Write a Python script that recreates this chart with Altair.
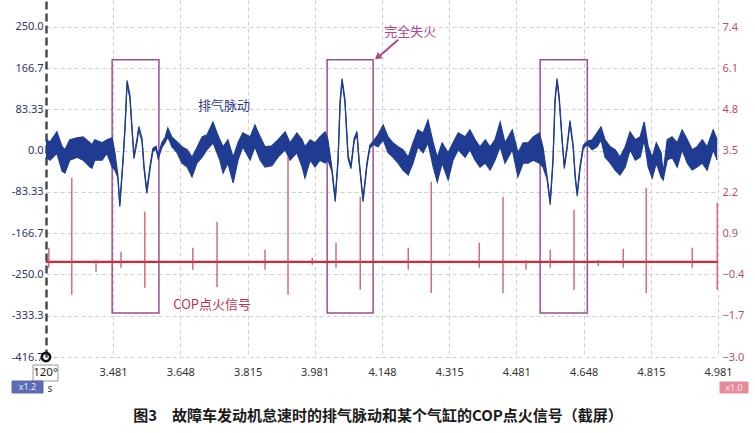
import altair as alt
import pandas as pd

# ---------------- axes ----------------
x_min, x_max = 3.315, 4.981
x_ticks = [3.481, 3.648, 3.815, 3.981, 4.148, 4.315, 4.481, 4.648, 4.815, 4.981]

left_domain = [-416.667, 304.5]
left_ticks = [250.0, 166.667, 83.333, 0.0, -83.333, -166.667, -250.0, -333.333, -416.667]
left_labels = ["250.0", "166.7", "83.33", "0.0", "-83.33", "-166.7", "-250.0", "-333.3", "-416.7"]

right_domain = [-3.0, 8.251]
right_ticks = [7.4, 6.1, 4.8, 3.5, 2.2, 0.9, -0.4, -1.7, -3.0]

# ---------------- exhaust pulse trace (upper / lower edge of the band) ----------------
pulse_t = [3.315, 3.325, 3.342, 3.355, 3.362, 3.374, 3.392, 3.407, 3.424, 3.429, 3.436, 3.454, 3.466, 3.479,
           3.486, 3.493, 3.498, 3.506, 3.511, 3.516, 3.523, 3.528, 3.533, 3.541, 3.545, 3.553, 3.558, 3.565,
           3.573, 3.580, 3.588, 3.593, 3.602, 3.610, 3.617, 3.627, 3.640, 3.652, 3.665, 3.677, 3.689, 3.702,
           3.714, 3.729, 3.739, 3.746, 3.754, 3.766, 3.779, 3.791, 3.803, 3.821, 3.833, 3.846, 3.858, 3.875,
           3.890, 3.908, 3.920, 3.937, 3.950, 3.957, 3.970, 3.982, 3.994, 4.007, 4.014, 4.024, 4.032, 4.039,
           4.044, 4.049, 4.056, 4.064, 4.071, 4.079, 4.086, 4.091, 4.101, 4.111, 4.118, 4.126, 4.138, 4.151,
           4.163, 4.175, 4.188, 4.200, 4.213, 4.225, 4.237, 4.250, 4.262, 4.275, 4.285, 4.297, 4.312, 4.324,
           4.337, 4.354, 4.366, 4.379, 4.391, 4.404, 4.416, 4.428, 4.441, 4.453, 4.471, 4.485, 4.498, 4.510,
           4.523, 4.538, 4.547, 4.557, 4.565, 4.572, 4.577, 4.582, 4.587, 4.595, 4.600, 4.607, 4.614, 4.622,
           4.627, 4.632, 4.639, 4.647, 4.657, 4.669, 4.681, 4.691, 4.701, 4.714, 4.726, 4.738, 4.751, 4.763,
           4.776, 4.788, 4.798, 4.808, 4.818, 4.828, 4.840, 4.845, 4.855, 4.867, 4.880, 4.892, 4.905, 4.917,
           4.929, 4.942, 4.954, 4.969, 4.979]
pulse_hi = [22, 18, 38, 8, 2, 22, 26, 28, 16, 12, 22, 16, 22, 26,
            -5, -48, -107, -16, 51, 142, 112, 51, -10, 25, 49, 25, -30, -80,
            -30, 5, 9, -10, 16, 26, 46, 28, 18, 8, 2, -13, 6, 28,
            32, 58, 36, 22, 8, 22, -13, 16, 36, 28, 52, 28, 8, 10,
            22, 38, 16, 36, 22, 8, 22, 16, 28, 38, 22, -36, -97, -16,
            99, 146, 105, -10, -30, 25, 39, -16, -97, -22, 11, 19, 32, 52,
            28, 16, 8, 2, -13, 16, 42, 36, 62, 16, -13, 16, -4, 16,
            36, 28, 42, 22, 8, 22, 8, 22, 58, 16, 42, -4, 16, 16,
            28, 36, 8, -50, -103, -16, 105, 146, 112, 19, -30, 11, 61, 11,
            -50, -86, -30, 11, 19, 22, 36, 48, 22, 8, 2, -13, 8, 38,
            22, 28, 58, 8, -13, 16, -4, -45, 22, 28, 16, 42, 22, 2,
            8, 22, 8, 42, 22]
pulse_lo = [-13, -19, -5, -41, -45, -19, -13, -19, -33, -35, -19, -19, -5, -33,
            -39, -54, -113, -22, 45, 136, 106, 45, -16, 19, 43, 19, -36, -86,
            -36, -1, 3, -16, 6, 16, 28, 8, -4, -25, -33, -53, -25, -13,
            2, 16, -4, -19, -45, -25, -65, -19, 8, -19, 8, -19, -33, -30,
            -13, 2, -19, -4, -33, -55, -19, -33, -19, -25, -19, -42, -103, -22,
            93, 140, 99, -16, -36, 19, 33, -22, -103, -28, 5, 13, 8, 22,
            -4, -13, -25, -39, -49, -25, 8, -4, 16, -33, -63, -25, -59, -19,
            2, -13, 2, -19, -33, -25, -39, -19, 8, -25, 2, -53, -25, -25,
            -19, -25, -33, -56, -109, -22, 99, 140, 106, 13, -36, 5, 55, 5,
            -56, -92, -36, 5, 13, 2, 8, 22, -13, -25, -39, -49, -33, 2,
            -19, -13, 22, -33, -55, -25, -53, -59, -19, -13, -33, 2, -25, -39,
            -33, -25, -39, 2, -19]

# ---------------- COP ignition spikes (right axis, V) ----------------
spike_t = [3.322, 3.379, 3.439, 3.501, 3.560, 3.679, 3.739, 3.858, 3.915, 3.975, 4.034, 4.094,
           4.213, 4.270, 4.389, 4.448, 4.505, 4.565, 4.624, 4.684, 4.746, 4.803, 4.917, 4.979]
spike_hi = [0.44, 2.65, 0.05, 0.32, 1.58, 0.44, 1.26, 0.38, 3.31, 0.13, 0.60, 2.05,
            0.44, 2.52, 0.60, 2.05, 0.05, 0.38, 1.64, 0.06, 0.41, 2.33, 0.44, 1.86]
spike_lo = [-0.19, -1.04, -0.32, -0.19, -0.82, -0.25, -0.79, -0.25, -1.04, -0.09, -0.19, -0.88,
            -0.25, -0.98, -0.19, -0.98, -0.25, -0.19, -0.88, -0.13, -0.19, -0.98, -0.19, -0.88]
cop_level = 0.0

# ---------------- misfire windows ----------------
box_t0 = [3.479, 4.012, 4.540]
box_t1 = [3.595, 4.126, 4.657]
box_top = 184
box_bottom = -328

BLUE = "#1f3c92"
RED = "#cf2a3a"
SPIKE = "#c94862"
BOX = "#9a4f95"
MAGENTA = "#b0478a"
GRID = "#cfcfcf"
CJK = "Noto Sans CJK SC"

x_scale = alt.Scale(domain=[x_min, x_max], nice=False, zero=False)
left_scale = alt.Scale(domain=left_domain, nice=False, zero=False)
right_scale = alt.Scale(domain=right_domain, nice=False, zero=False)

label_expr = "''"
for v, lab in reversed(list(zip(left_ticks, left_labels))):
    label_expr = f"abs(datum.value - ({v})) < 0.5 ? '{lab}' : {label_expr}"

x_axis = alt.Axis(values=x_ticks, format=".3f", title=None, grid=True, gridColor=GRID,
                  gridDash=[4, 3], gridWidth=1, domain=False, ticks=False, labelColor="#333333",
                  labelFontSize=11, labelPadding=9, labelFlush=False, labelOverlap=False,
                  labelFont="Noto Sans")
left_axis = alt.Axis(values=left_ticks, labelExpr=label_expr, title=None, grid=True,
                     gridColor=GRID, gridDash=[4, 3], gridWidth=1, domain=True,
                     domainColor="#4a4a4a", domainWidth=2.5, domainDash=[8, 4], ticks=False,
                     labelColor="#2b3470", labelFontSize=11, labelPadding=3, labelFlush=False,
                     labelOverlap=False, labelFont="Noto Sans")
right_axis = alt.Axis(values=right_ticks, format=".1f", title=None, orient="right", grid=False,
                      domain=False, ticks=False, labelColor="#b5506e", labelFontSize=11,
                      labelPadding=4, labelFlush=False, labelOverlap=False, labelFont="Noto Sans")

pulse = pd.DataFrame({"t": pulse_t, "hi": pulse_hi, "lo": pulse_lo})
spikes = pd.DataFrame({"t": spike_t, "hi": spike_hi, "lo": spike_lo})
boxes = pd.DataFrame({"t0": box_t0, "t1": box_t1, "top": [box_top] * 3, "bottom": [box_bottom] * 3})

X = lambda f: alt.X(f, type="quantitative", scale=x_scale, axis=x_axis)
YL = lambda f: alt.Y(f, type="quantitative", scale=left_scale, axis=left_axis)
YR = lambda f: alt.Y(f, type="quantitative", scale=right_scale, axis=right_axis)

box_layer = alt.Chart(boxes).mark_rect(fillOpacity=0, stroke=BOX, strokeWidth=1.5).encode(
    x=X("t0"), x2="t1", y=YL("top"), y2="bottom")
band = alt.Chart(pulse).mark_area(color=BLUE, opacity=1).encode(x=X("t"), y=YL("hi"), y2="lo")
edge_hi = alt.Chart(pulse).mark_line(color=BLUE, strokeWidth=1.2).encode(x=X("t"), y=YL("hi"))
edge_lo = alt.Chart(pulse).mark_line(color=BLUE, strokeWidth=1.2).encode(x=X("t"), y=YL("lo"))

notes = pd.DataFrame({
    "t": [3.756, 4.218, 3.727],
    "v": [90, 240, -312],
    "label": ["排气脉动", "完全失火", "COP点火信号"],
    "color": ["#2a3a90", MAGENTA, "#c03048"],
})
note_layer = alt.Chart(notes).mark_text(font=CJK, fontSize=13, align="center", baseline="middle").encode(
    x=X("t"), y=YL("v"), text="label:N", color=alt.Color("color:N", scale=None))

arrow = pd.DataFrame({"t0": [4.188], "v0": [224], "t1": [4.140], "v1": [190]})
arrow_line = alt.Chart(arrow).mark_rule(color=MAGENTA, strokeWidth=2).encode(
    x=X("t0"), x2="t1", y=YL("v0"), y2="v1")
arrow_head = alt.Chart(pd.DataFrame({"t": [4.137], "v": [189]})).mark_point(
    shape="triangle-up", filled=True, size=60, angle=232, color=MAGENTA, opacity=1).encode(
    x=X("t"), y=YL("v"))

pulse_group = alt.layer(box_layer, band, edge_hi, edge_lo, note_layer, arrow_line, arrow_head)

base = pd.DataFrame({"t0": [x_min], "t1": [x_max], "v": [cop_level]})
base_layer = alt.Chart(base).mark_rule(color=RED, strokeWidth=2.2).encode(
    x=X("t0"), x2="t1", y=YR("v"))
spike_layer = alt.Chart(spikes).mark_rule(color=SPIKE, strokeWidth=1.2).encode(
    x=X("t"), y=YR("hi"), y2="lo")
cop_group = alt.layer(base_layer, spike_layer)

# scope status widgets under the plot and the figure caption
badges = pd.DataFrame({
    "x0": [-13, -34, 674], "x1": [12, -3, 702],
    "y0": [365, 381, 382], "y1": [381, 393, 393],
    "fill": ["#ffffff", "#5b6bb5", "#e58a9a"],
    "stroke": ["#9a9a9a", "#5b6bb5", "#e58a9a"],
})
badge_layer = alt.Chart(badges).mark_rect(strokeWidth=1).encode(
    x=alt.X("x0:Q", scale=None), x2="x1:Q", y=alt.Y("y0:Q", scale=None), y2="y1:Q",
    fill=alt.Fill("fill:N", scale=None), stroke=alt.Stroke("stroke:N", scale=None))
badge_text = pd.DataFrame({
    "x": [-0.5, -18.5, 688, 4], "y": [373, 387, 387.5, 389],
    "label": ["120°", "x1.2", "x1.0", "s"],
    "color": ["#222222", "#e8ecff", "#fbe5ea", "#333333"],
    "size": [11.5, 9, 9, 10],
})
badge_text_layer = alt.Chart(badge_text).mark_text(font="Noto Sans", baseline="middle", align="center").encode(
    x=alt.X("x:Q", scale=None), y=alt.Y("y:Q", scale=None), text="label:N",
    color=alt.Color("color:N", scale=None), size=alt.Size("size:Q", scale=None))
cursor = alt.Chart(pd.DataFrame({"x": [0], "y": [357]})).mark_point(
    shape="circle", filled=False, size=70, strokeWidth=2.5, color="#111111", opacity=1).encode(
    x=alt.X("x:Q", scale=None), y=alt.Y("y:Q", scale=None))
caption = alt.Chart(pd.DataFrame({"x": [332], "y": [416],
                                  "label": ["图3　故障车发动机怠速时的排气脉动和某个气缸的COP点火信号（截屏）"]})).mark_text(
    font=CJK, fontSize=15, fontWeight="bold", color="#1a1a1a", align="center", baseline="middle").encode(
    x=alt.X("x:Q", scale=None), y=alt.Y("y:Q", scale=None), text="label:N")
deco = alt.layer(badge_layer, badge_text_layer, cursor, caption)

chart = alt.layer(pulse_group, cop_group, deco).resolve_scale(y="independent").properties(
    width=672, height=357,
    padding={"left": 46, "top": 0, "right": 37, "bottom": 76},
    autosize=alt.AutoSizeParams(type="none"),
    background="white",
).configure_view(stroke="transparent")

chart.save("out.html", embed_options={"renderer": "svg", "actions": False})
